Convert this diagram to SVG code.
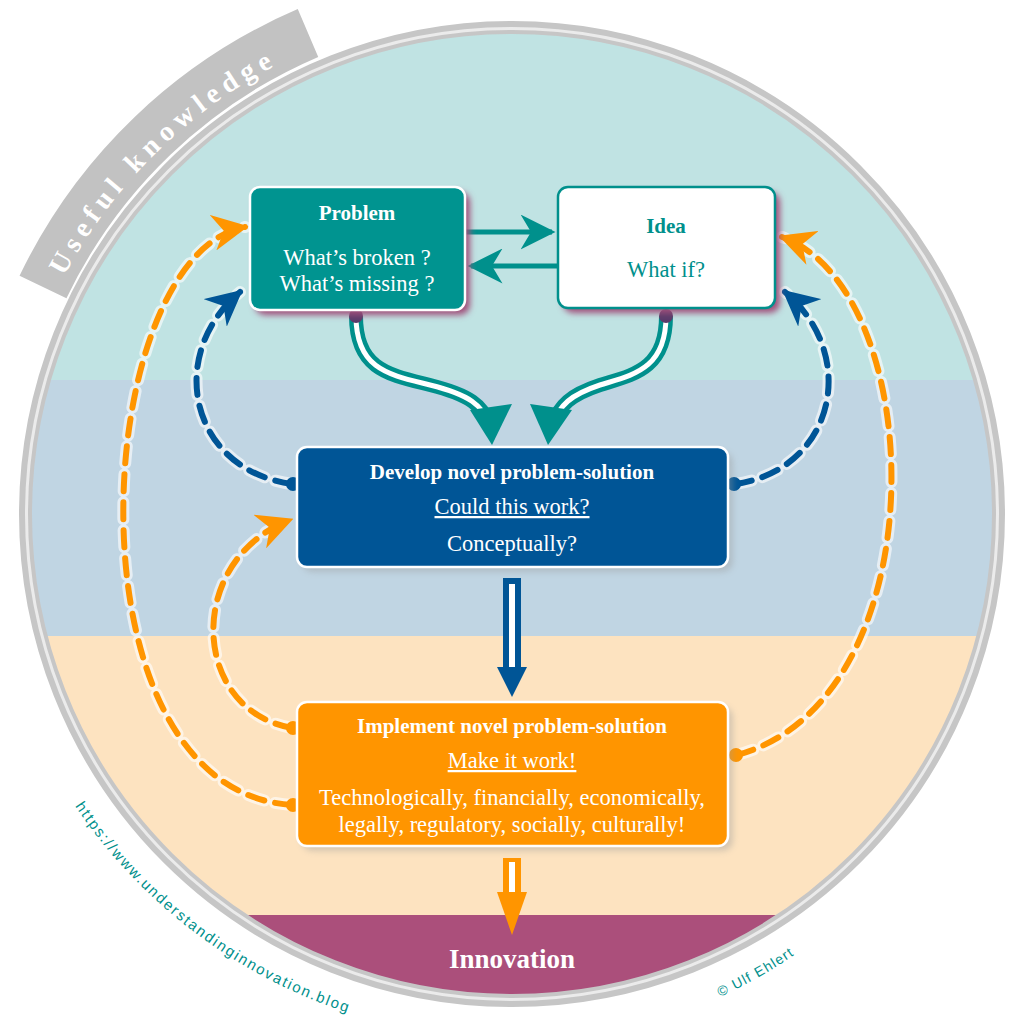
<svg xmlns="http://www.w3.org/2000/svg" width="1024" height="1024" viewBox="0 0 1024 1024">
<style>
.t{font-family:"Liberation Serif","DejaVu Serif",serif;fill:#fff;text-anchor:middle;font-size:22.5px}
.b{font-weight:bold;font-size:21px}
.dash{fill:none;stroke-width:6;stroke-dasharray:17 11;stroke-linecap:round}
.glow{fill:none;stroke:#fff;stroke-width:12;opacity:0.6;stroke-dasharray:17 11;stroke-linecap:round}
</style>
<defs>
<clipPath id="cc"><circle cx="512" cy="514" r="482"/></clipPath>
<filter id="sh" x="-20%" y="-20%" width="140%" height="140%"><feGaussianBlur stdDeviation="3"/></filter>
<marker id="ho" viewBox="0 0 20 20" refX="18" refY="10" markerWidth="6" markerHeight="6" orient="auto" markerUnits="strokeWidth"><path d="M0,0 L20,10 L0,20 L6,10 Z" fill="#ff9500"/></marker>
<marker id="hb" viewBox="0 0 20 20" refX="18" refY="10" markerWidth="6" markerHeight="6" orient="auto" markerUnits="strokeWidth"><path d="M0,0 L20,10 L0,20 L6,10 Z" fill="#005596"/></marker>
<marker id="ht" viewBox="0 0 20 20" refX="18" refY="10" markerWidth="7" markerHeight="7" orient="auto" markerUnits="strokeWidth"><path d="M0,0 L20,10 L0,20 L6,10 Z" fill="#00908c"/></marker>
<path id="ukp" d="M35.6,340.6 A507,507 0 0 1 380.8,24.3"/>
<path id="urlp" d="M75,806 A527,527 0 0 0 365,1018"/>
<path id="cpp" d="M720,997 A522,522 0 0 0 858,904"/>
</defs>
<rect width="1024" height="1024" fill="#fff"/>
<path d="M43,287 A522,522 0 0 1 308,33" fill="none" stroke="#c2c2c2" stroke-width="52"/>
<text font-family="Liberation Serif,serif" font-size="28" font-weight="bold" fill="#fff" letter-spacing="6"><textPath href="#ukp" startOffset="46%" text-anchor="middle">Useful knowledge</textPath></text>
<circle cx="512" cy="514" r="490" fill="#ebebeb" stroke="#c6c6c6" stroke-width="6"/>
<g clip-path="url(#cc)">
<rect x="0" y="0" width="1024" height="380" fill="#c0e3e3"/>
<rect x="0" y="380" width="1024" height="256" fill="#c0d5e3"/>
<rect x="0" y="636" width="1024" height="279" fill="#fde3c0"/>
<rect x="0" y="915" width="1024" height="120" fill="#ab4f7b"/>
</g>
<circle cx="512" cy="514" r="482" fill="none" stroke="#c6c6c6" stroke-width="4"/>
<text font-family="Liberation Sans,sans-serif" font-size="15" fill="#00908c" letter-spacing="1.8"><textPath href="#urlp">https://www.understandinginnovation.blog</textPath></text>
<text font-family="Liberation Sans,sans-serif" font-size="14" fill="#00908c" letter-spacing="1.2"><textPath href="#cpp">© Ulf Ehlert</textPath></text>
<g id="connectors">
<path d="M466,232 L552,232" stroke="#00908c" stroke-width="5" fill="none" marker-end="url(#ht)"/>
<path d="M557,266 L471,266" stroke="#00908c" stroke-width="5" fill="none" marker-end="url(#ht)"/>
<path d="M356,316 C356,370 390,375 430,385 C470,395 482,405 490,425" fill="none" stroke="#00908c" stroke-width="14"/>
<path d="M356,316 C356,370 390,375 430,385 C470,395 482,405 490,425" fill="none" stroke="#fff" stroke-width="5"/>
<path d="M470,410 L512,404 L492,445 Z" fill="#00908c"/>
<path d="M666,316 C666,370 632,375 600,385 C570,395 560,405 552,425" fill="none" stroke="#00908c" stroke-width="14"/>
<path d="M666,316 C666,370 632,375 600,385 C570,395 560,405 552,425" fill="none" stroke="#fff" stroke-width="5"/>
<path d="M530,404 L572,410 L548,445 Z" fill="#00908c"/>
<circle cx="356" cy="316" r="7" fill="#5a3b6a"/>
<circle cx="666" cy="316" r="7" fill="#5a3b6a"/>
<rect x="503" y="578" width="18" height="90" fill="#005596"/>
<rect x="509" y="584" width="6" height="84" fill="#fff"/>
<path d="M497,667 L527,667 L512,697 Z" fill="#005596"/>
<rect x="503" y="858" width="18" height="42" fill="#ff9500"/>
<rect x="509" y="862" width="6" height="38" fill="#fff"/>
<path d="M497,892 L527,892 L512,935 Z" fill="#ff9500"/>
<path class="glow" d="M292,484 C190,470 165,355 240,292"/>
<path class="dash" stroke="#005596" d="M292,484 C190,470 165,355 240,292" marker-end="url(#hb)"/>
<path class="glow" d="M735,484 C835,470 860,355 785,292"/>
<path class="dash" stroke="#005596" d="M735,484 C835,470 860,355 785,292" marker-end="url(#hb)"/>
<path class="glow" d="M292,728 C190,710 185,560 290,520"/>
<path class="dash" stroke="#ff9500" d="M292,728 C190,710 185,560 290,520" marker-end="url(#ho)"/>
<path class="glow" d="M292,805 C60,790 90,255 245,227"/>
<path class="dash" stroke="#ff9500" d="M292,805 C60,790 90,255 245,227" marker-end="url(#ho)"/>
<path class="glow" d="M737,755 C940,700 930,290 782,237"/>
<path class="dash" stroke="#ff9500" d="M737,755 C940,700 930,290 782,237" marker-end="url(#ho)"/>
<circle cx="293" cy="484" r="7" fill="#005596"/>
<circle cx="734" cy="484" r="7" fill="#005596"/>
<circle cx="293" cy="728" r="7" fill="#ff9500"/>
<circle cx="293" cy="805" r="7" fill="#ff9500"/>
<circle cx="736" cy="755" r="7" fill="#ff9500"/>
</g>
<g id="problem">
<rect x="255" y="192" width="215" height="123" rx="10" fill="#a0507a" filter="url(#sh)"/>
<rect x="250" y="187" width="215" height="123" rx="10" fill="#009490" stroke="#fff" stroke-width="2.5"/>
<text class="t b" x="357" y="220">Problem</text>
<text class="t" x="357" y="265">What’s broken ?</text>
<text class="t" x="357" y="291">What’s missing ?</text>
</g>
<g id="idea">
<rect x="563" y="192" width="217" height="121" rx="10" fill="#a0507a" filter="url(#sh)"/>
<rect x="558" y="187" width="217" height="121" rx="10" fill="#fff" stroke="#00908c" stroke-width="2.5"/>
<text class="t b" x="666" y="233" style="fill:#00908c">Idea</text>
<text class="t" x="666" y="277" style="fill:#00908c">What if?</text>
</g>
<g id="develop">
<rect x="302" y="452" width="431" height="120" rx="10" fill="#999" opacity="0.4" filter="url(#sh)"/>
<rect x="297" y="447" width="431" height="120" rx="10" fill="#005596" stroke="#fff" stroke-width="2.5"/>
<text class="t b" x="512" y="479">Develop novel problem-solution</text>
<text class="t" x="512" y="514" text-decoration="underline">Could this work?</text>
<text class="t" x="512" y="551">Conceptually?</text>
</g>
<g id="implement">
<rect x="302" y="707" width="431" height="144" rx="10" fill="#999" opacity="0.4" filter="url(#sh)"/>
<rect x="297" y="702" width="431" height="144" rx="10" fill="#ff9500" stroke="#fff" stroke-width="2.5"/>
<text class="t b" x="512" y="733">Implement novel problem-solution</text>
<text class="t" x="512" y="768" text-decoration="underline">Make it work!</text>
<text class="t" x="512" y="805">Technologically, financially, economically,</text>
<text class="t" x="512" y="832">legally, regulatory, socially, culturally!</text>
</g>
<g id="innovation">
<text class="t b" x="512" y="968" style="font-size:27px">Innovation</text>
</g>
</svg>
